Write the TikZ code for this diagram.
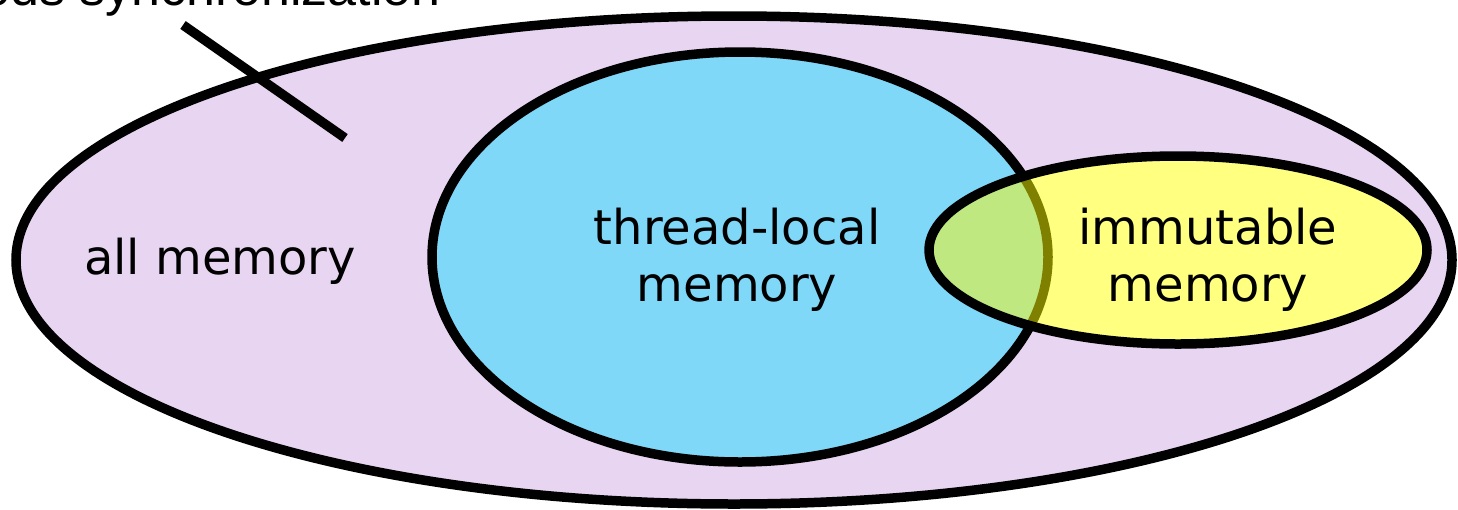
\documentclass[tikz,border=0pt]{standalone}
\usepackage{fontspec}
\setmainfont{DejaVu Sans}
\newfontfamily\topfont{Liberation Sans}
\definecolor{allc}{HTML}{E8D5F2}
\definecolor{tlc}{HTML}{80D8F8}
\definecolor{imc}{HTML}{FFFF80}
\definecolor{ovc}{HTML}{C0E880}
\definecolor{olive2}{HTML}{808000}
\tikzset{
  setline/.style={line width=9.5pt},
  lbl/.style={align=center, font=\fontsize{48}{57}\selectfont, inner sep=0pt},
}
\begin{document}
\begin{tikzpicture}[x=1pt,y=-1pt]
\useasboundingbox (0,0) rectangle (1458,509);
\clip (0,0) rectangle (1458,509);
% outer ellipse
\fill[allc] (734,260) ellipse [x radius=718, y radius=244];
\draw[setline] (734,260) ellipse [x radius=718, y radius=244];
% thread-local
\fill[tlc] (740,257) ellipse [x radius=308, y radius=205];
\draw[setline] (740,257) ellipse [x radius=308, y radius=205];
% immutable
\fill[imc] (1178,250) ellipse [x radius=249, y radius=94];
\begin{scope}
  \clip (1178,250) ellipse [x radius=249, y radius=94];
  \fill[ovc] (740,257) ellipse [x radius=308, y radius=205];
  \draw[setline, olive2] (740,257) ellipse [x radius=308, y radius=205];
\end{scope}
\draw[setline] (1178,250) ellipse [x radius=249, y radius=94];
% labels
\node[lbl] (all) at (220,261) {all memory};
\node[lbl] (tl) at (737,260) {thread-local\\memory};
\node[lbl] (im) at (1208,260) {immutable\\memory};
% top label and pointer
\node[anchor=base east, inner sep=0pt, font=\topfont\fontsize{52}{60}\selectfont] (sync) at (441,5) {needs synchronization};
\coordinate (p1) at (183,25);
\coordinate (p2) at (345,138);
\draw[setline] (p1) -- (p2);
\end{tikzpicture}
\end{document}
